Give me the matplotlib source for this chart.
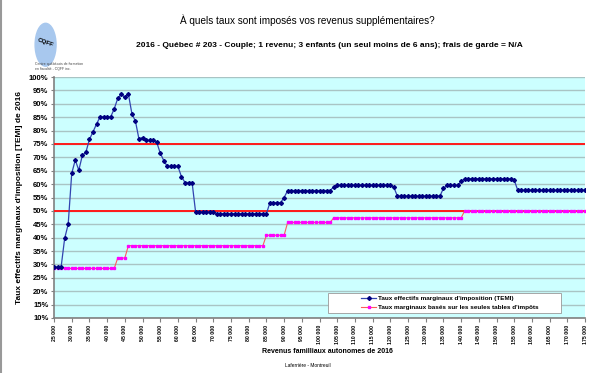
import matplotlib.pyplot as plt
import numpy as np
from matplotlib.patches import Ellipse, Rectangle

# revenus de 25 000 $ a 175 000 $, un point par 1 000 $
revenus = np.arange(25000, 175001, 1000)

# TEMI (%)
temi = [29.0, 29.0, 29.0, 39.7, 45.0, 64.0, 69.0, 65.2, 70.7, 71.9,
        76.7, 79.5, 82.4, 85.1, 85.1, 85.1, 85.1, 88.1, 92.0, 93.6,
        92.4, 93.7, 86.3, 83.5, 76.8, 77.4, 76.3, 76.3, 76.3, 75.7,
        71.6, 68.8, 66.6, 66.6, 66.6, 66.6, 62.8, 60.6, 60.6, 60.6,
        49.5, 49.5, 49.5, 49.5, 49.5, 49.5, 49.0, 49.0, 49.0, 49.0,
        49.0, 49.0, 49.0, 49.0, 49.0, 49.0, 49.0, 49.0, 49.0, 49.0,
        49.0, 53.1, 53.1, 53.1, 53.1, 55.0, 57.6, 57.6, 57.6, 57.6,
        57.6, 57.6, 57.6, 57.6, 57.6, 57.6, 57.6, 57.6, 57.6, 59.0,
        59.6, 59.6, 59.6, 59.6, 59.6, 59.6, 59.6, 59.6, 59.6, 59.6,
        59.6, 59.6, 59.6, 59.6, 59.6, 59.6, 58.8, 55.5, 55.5, 55.5,
        55.5, 55.5, 55.5, 55.5, 55.5, 55.5, 55.5, 55.5, 55.5, 55.5,
        58.4, 59.5, 59.5, 59.5, 59.5, 61.0, 62.0, 62.0, 62.0, 62.0,
        62.0, 62.0, 62.0, 62.0, 62.0, 62.0, 62.0, 62.0, 62.0, 62.0,
        61.5, 57.7, 57.7, 57.7, 57.7, 57.7, 57.7, 57.7, 57.7, 57.7,
        57.7, 57.7, 57.7, 57.7, 57.7, 57.7, 57.7, 57.7, 57.7, 57.7,
        57.7]

# taux marginaux selon les seules tables d'impots (%)
tables = [28.5, 28.5, 28.5, 28.5, 28.5, 28.5, 28.5, 28.5, 28.5, 28.5,
          28.5, 28.5, 28.5, 28.5, 28.5, 28.5, 28.5, 28.5, 32.4, 32.4,
          32.4, 37.0, 37.0, 37.0, 37.0, 37.0, 37.0, 37.0, 37.0, 37.0,
          37.0, 37.0, 37.0, 37.0, 37.0, 37.0, 37.0, 37.0, 37.0, 37.0,
          37.0, 37.0, 37.0, 37.0, 37.0, 37.0, 37.0, 37.0, 37.0, 37.0,
          37.0, 37.0, 37.0, 37.0, 37.0, 37.0, 37.0, 37.0, 37.0, 37.0,
          40.9, 40.9, 40.9, 40.9, 40.9, 40.9, 45.7, 45.7, 45.7, 45.7,
          45.7, 45.7, 45.7, 45.7, 45.7, 45.7, 45.7, 45.7, 45.7, 47.4,
          47.4, 47.4, 47.4, 47.4, 47.4, 47.4, 47.4, 47.4, 47.4, 47.4,
          47.4, 47.4, 47.4, 47.4, 47.4, 47.4, 47.4, 47.4, 47.4, 47.4,
          47.4, 47.4, 47.4, 47.4, 47.4, 47.4, 47.4, 47.4, 47.4, 47.4,
          47.4, 47.4, 47.4, 47.4, 47.4, 47.4, 50.0, 50.0, 50.0, 50.0,
          50.0, 50.0, 50.0, 50.0, 50.0, 50.0, 50.0, 50.0, 50.0, 50.0,
          50.0, 50.0, 50.0, 50.0, 50.0, 50.0, 50.0, 50.0, 50.0, 50.0,
          50.0, 50.0, 50.0, 50.0, 50.0, 50.0, 50.0, 50.0, 50.0, 50.0,
          50.0]

seuils = [50, 75]
xticks = np.arange(25000, 175001, 5000)
xlabels = ['{:,}'.format(v).replace(',', ' ') for v in xticks]
yticks = np.arange(10, 101, 5)

plt.rcParams['font.family'] = ['Liberation Sans', 'DejaVu Sans']

fig = plt.figure(figsize=(6.16, 3.73), dpi=100)
ax = fig.add_axes([0.0877, 0.1475, 0.862, 0.646])
ax.set_facecolor('#ccffff')

for s in seuils:
    ax.axhline(s, color='#ff1a1a', lw=1.4, zorder=3)

ax.plot(revenus, tables, color='#ff5a5a', lw=0.8, marker='s', ms=1.8,
        mfc='#ff00ff', mec='#ff00ff', zorder=4,
        label="Taux marginaux basés sur les seules tables d'impôts")
ax.plot(revenus, temi, color='#3344b0', lw=0.9, marker='D', ms=2.0,
        mfc='#000080', mec='#000080', zorder=5,
        label="Taux effectifs marginaux d'imposition (TEMI)")

ax.set_xlim(25000, 175000)
ax.set_ylim(10, 100)
ax.set_yticks(yticks)
ax.set_yticklabels(['%d%%' % v for v in yticks], fontsize=5.5, fontweight='bold')
ax.set_xticks(xticks)
ax.set_xticklabels(xlabels, rotation=90, fontsize=3.7, fontweight='bold')
ax.tick_params(axis='x', length=3, color='#808080', pad=2)
ax.tick_params(axis='y', length=2, color='#808080', pad=2)
ax.grid(axis='y', color='#a9c4c4', lw=1.0, zorder=0)
ax.set_axisbelow(True)
for sp in ['top', 'right']:
    ax.spines[sp].set_visible(False)
for sp in ['left', 'bottom']:
    ax.spines[sp].set_color('#808080')
    ax.spines[sp].set_linewidth(1.2)

ax.set_ylabel("Taux effectifs marginaux d'imposition [TEMI] de 2016",
              fontsize=6, fontweight='bold', labelpad=4)

# cadre de legende (taille fixe, comme dans Excel)
ax.add_patch(Rectangle((0.516, 0.02), 0.439, 0.084, transform=ax.transAxes,
                       facecolor='white', edgecolor='#999999', lw=0.6, zorder=6))
h, l = ax.get_legend_handles_labels()
leg = ax.legend(h[::-1], l[::-1], loc='center', bbox_to_anchor=(0.745, 0.062),
                fontsize=4.6, frameon=False, borderpad=0.2,
                labelspacing=0.6, handlelength=2.4, handletextpad=0.2)
leg.set_zorder(7)
for t in leg.get_texts():
    t.set_fontweight('bold')

fig.text(0.499, 0.947, 'À quels taux sont imposés vos revenus supplémentaires?',
         ha='center', va='center', fontsize=7.2)
fig.text(0.534, 0.877,
         '2016 - Québec # 203 - Couple; 1 revenu; 3 enfants (un seul moins de 6 ans); frais de garde = N/A',
         ha='center', va='center', fontsize=6.0, fontweight='bold')
fig.text(0.532, 0.057, 'Revenus familliaux autonomes de 2016',
         ha='center', va='center', fontsize=5.0, fontweight='bold')
fig.text(0.499, 0.021, 'Laferrière - Montreuil', ha='center', va='center',
         fontsize=3.5)

# logo CQFF (approximation)
fig.patches.append(Ellipse((0.074, 0.88), 0.034, 0.115, transform=fig.transFigure,
                           color='#a8c8ee', zorder=0))
fig.text(0.074, 0.885, 'CQFF', ha='center', va='center', fontsize=4.5,
         fontweight='bold', rotation=-20)
fig.text(0.057, 0.822, 'Centre québécois de formation\nen fiscalité - CQFF inc.',
         ha='left', va='center', fontsize=2.5, color='#444444')

# bordure grise a gauche
fig.add_artist(plt.Line2D([0.002, 0.002], [0, 1], color='#999999', lw=1.5,
                          transform=fig.transFigure))

fig.savefig('out.png', dpi=100)
